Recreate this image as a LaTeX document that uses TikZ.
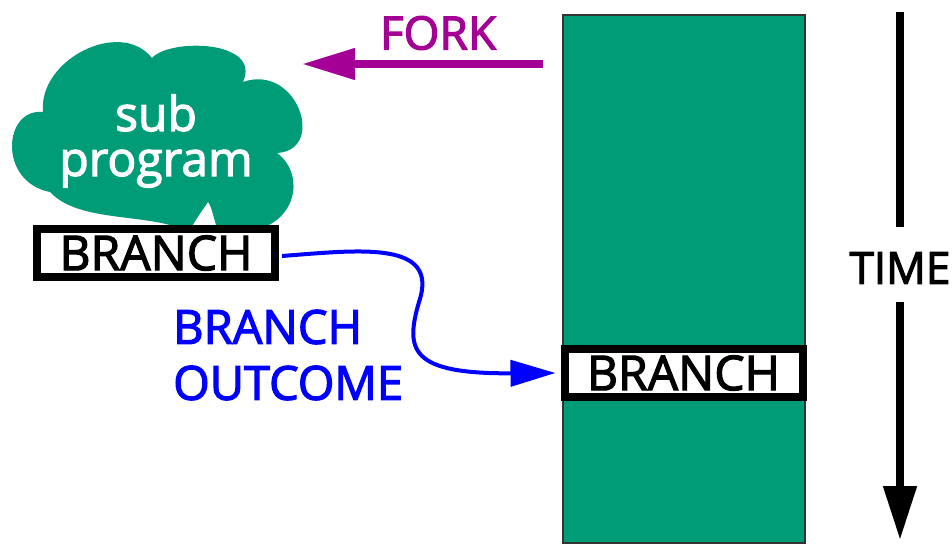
\documentclass[tikz,border=0pt]{standalone}
\usepackage{fontspec}
\setmainfont{Open Sans}
\newfontfamily\medfont{Open Sans}[FakeBold=2.5]
\usetikzlibrary{arrows.meta}
\definecolor{tealg}{RGB}{0,155,119}
\definecolor{forkc}{RGB}{165,0,150}
\definecolor{outc}{RGB}{0,0,255}
\begin{document}
\begin{tikzpicture}[x=1pt,y=-1pt,
  branchbox/.style={draw=black, line width=8pt, fill=white, minimum width=238pt,
    minimum height=48pt, inner sep=0pt, font=\medfont\fontsize{48}{48}\selectfont},
  bigtext/.style={inner sep=0pt, outer sep=0pt, font=\medfont\fontsize{44}{44}\selectfont},
  timeline/.style={line width=8pt, black}]
\useasboundingbox (0,0) rectangle (952,545);
% time bar
\node[draw=black!80, line width=1.2pt, fill=tealg, minimum width=242pt,
  minimum height=528pt, inner sep=0pt] (bar) at (684,279) {};
% cloud
\fill[tealg] (43,112) .. controls (38,60) and (120,18) .. (152,58)
  .. controls (170,38) and (262,40) .. (243,82)
  .. controls (297,63) and (327,150) .. (277,153)
  .. controls (307,175) and (297,230) .. (240,232)
  -- (218,232) .. controls (213,215) and (211,205) .. (208,202)
  .. controls (204,208) and (195,220) .. (189,232)
  .. controls (150,212) and (80,224) .. (50,192)
  .. controls (-2,182) and (3,108) .. (43,112) -- cycle;
\node[white, align=center, inner sep=0pt, font=\medfont\fontsize{48}{45}\selectfont] (sub) at (156,141) {sub\\program};
\node[branchbox] (lb) at (156,253) {BRANCH};
\node[branchbox] (rb) at (683.5,373) {BRANCH};
% fork
\coordinate (forkS) at (543,64);
\coordinate (forkE) at (302,64);
\draw[forkc, line width=7.5pt, -{Triangle[length=53pt,width=30pt]}] (forkS) -- (forkE);
\node[bigtext, forkc, font=\medfont\fontsize{46}{46}\selectfont] (fork) at (438,33) {FORK};
% branch outcome
\draw[outc, line width=4pt, -{Triangle[length=45pt,width=26pt]}]
  ([xshift=3pt,yshift=-3pt]lb.east) .. controls (360,250) and (440,240) .. (419,302)
  .. controls (405,350) and (410,374) .. ([xshift=-5pt]rb.west);
\node[outc, align=left, anchor=west, inner sep=0pt, font=\medfont\fontsize{47}{56}\selectfont] (outcome) at (173,355) {BRANCH\\OUTCOME};
% time
\node[bigtext] (time) at (900,268) {TIME};
\coordinate (ttop) at (900,12);
\coordinate (tbot) at (900,540);
\draw[timeline, shorten >=25pt] (ttop) -- (time.north);
\draw[timeline, shorten <=18pt, -{Triangle[length=54pt,width=32pt]}] (time.south) -- (tbot);
\end{tikzpicture}
\end{document}
